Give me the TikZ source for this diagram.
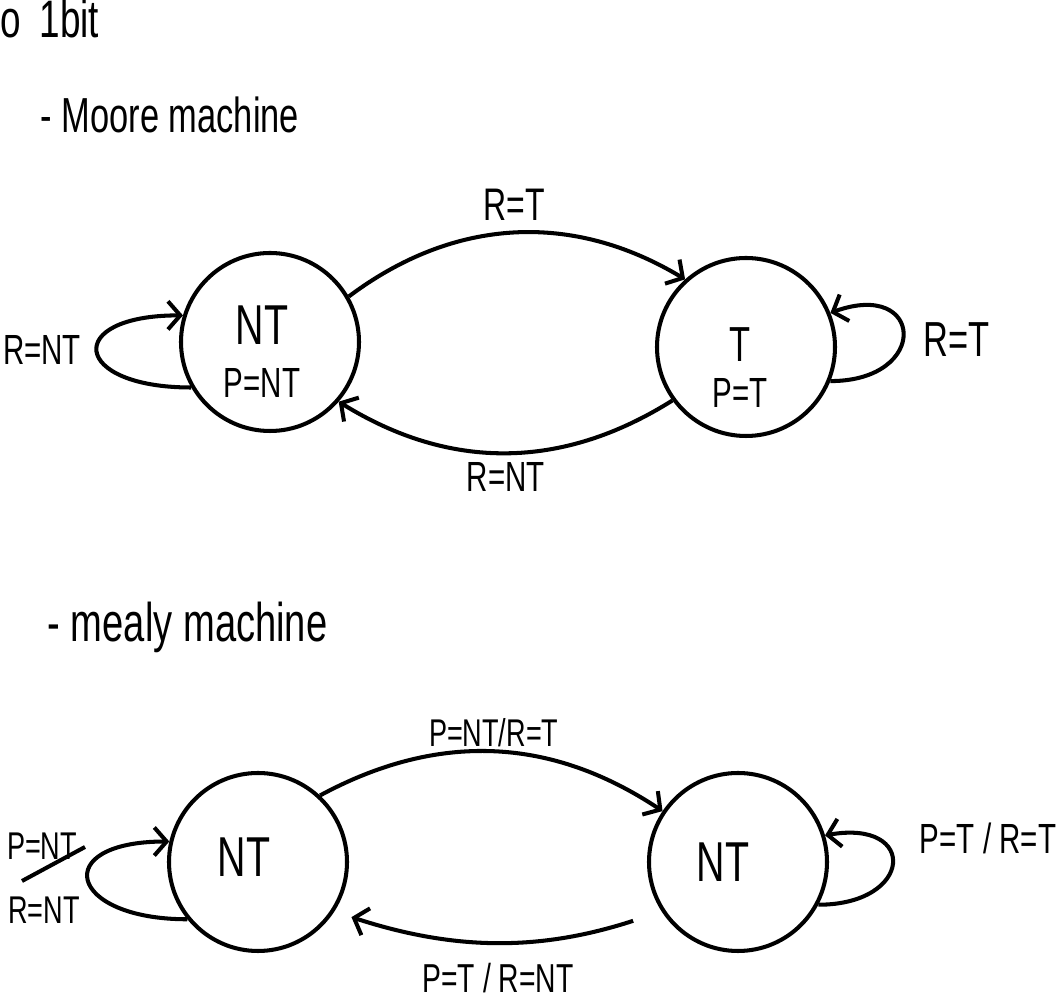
\documentclass[tikz,border=0pt]{standalone}
\usepackage{fontspec}
\setmainfont{Liberation Sans}[FakeStretch=0.7]
\usetikzlibrary{arrows.meta}
\newcommand{\handsize}[1]{\fontsize{#1}{#1}\selectfont}

\begin{document}
\begin{tikzpicture}[
    st/.style={circle, draw, line width=1.15pt, minimum size=1.78cm, inner sep=0pt},
    arr/.style={-{Straight Barb[length=3.5pt, width=8pt]}, line width=1.15pt},
    lbl/.style={inner sep=0pt, font=\handsize{12}},
    big/.style={inner sep=0pt, font=\handsize{16}}
  ]
  \useasboundingbox (0,0) rectangle (10.62,-10);

  % headings
  \node[anchor=base west, inner sep=0pt, font=\handsize{15}] (title) at (0,-0.38) {o\hspace{0.35em}1bit};
  \node[anchor=base west, inner sep=0pt, font=\handsize{14}] (moore) at (0.40,-1.33) {- Moore machine};
  \node[anchor=base west, inner sep=0pt, font=\handsize{15.5}] (mealy) at (0.47,-6.42) {- mealy machine};

  % Moore machine
  \node[st] (nt) at (2.70,-3.42) {};
  \node[st] (t)  at (7.46,-3.47) {};
  \node[big] (ntname) at (2.62,-3.25) {NT};
  \node[lbl] (ntout)  at (2.62,-3.83) {P=NT};
  \node[big, font=\handsize{14}] (tname) at (7.40,-3.45) {T};
  \node[lbl] (tout)   at (7.40,-3.93) {P=T};

  \draw[arr] (nt.30) to[bend left=34]
        node[midway, above=0.1cm, lbl, font=\handsize{13}] (rt) {R=T} (t.132);
  \draw[arr] (t.216) to[bend left=32]
        node[midway, below=0.07cm, lbl] (rnt) {R=NT} (nt.-41);
  \draw[arr] (nt.210) to[out=180, in=180, distance=1.2cm] (nt.163);
  \node[lbl] (ntloop) at (0.42,-3.50) {R=NT};
  \draw[arr] (t.-22) to[out=0, in=20, distance=1.0cm] (t.22);
  \node[lbl, font=\handsize{14}] (tloop) at (9.57,-3.40) {R=T};

  % Mealy machine
  \node[st] (ma) at (2.58,-8.62) {};
  \node[st] (mb) at (7.38,-8.62) {};
  \node[big] (maname) at (2.44,-8.57) {NT};
  \node[big] (mbname) at (7.23,-8.62) {NT};

  \draw[arr] (ma.47) to[bend left=31]
        node[midway, above=0.03cm, lbl, font=\handsize{11}] (ab) {P=NT/R=T} (mb.146);
  \draw[arr, shorten <=0.3cm, shorten >=0.18cm] (mb.213) to[bend left=18]
        node[midway, below=0.2cm, lbl, font=\handsize{11.5}] (ba) {P=T / R=NT} (ma.-33);
  \draw[arr] (ma.219) to[out=180, in=180, distance=1.2cm] (ma.167);
  \node[lbl, font=\handsize{11}] (aout) at (0.42,-8.46) {P=NT};
  \node[lbl, font=\handsize{11}] (ain)  at (0.44,-9.10) {R=NT};
  \draw[line width=1.15pt] (0.22,-8.81) -- (0.85,-8.47);
  \draw[arr] (mb.-28) to[out=0, in=10, distance=0.95cm] (mb.17);
  \node[lbl] (bloop) at (9.88,-8.38) {P=T / R=T};
\end{tikzpicture}
\end{document}
